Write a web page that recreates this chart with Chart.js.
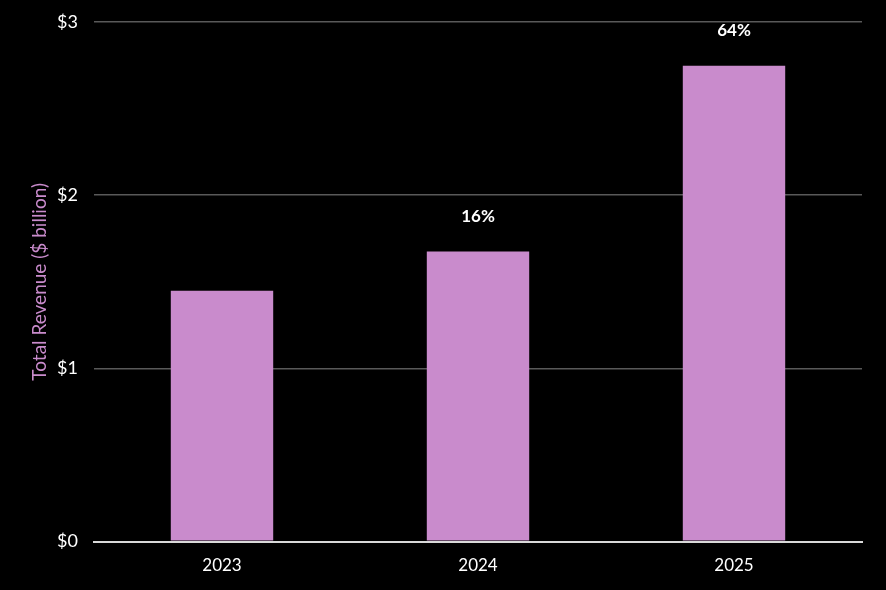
<!DOCTYPE html>
<html>
<head>
<meta charset="utf-8">
<script src="https://cdn.jsdelivr.net/npm/chart.js@4"></script>
<style>
html,body{margin:0;padding:0;background:#000;}
#wrap{width:886px;height:590px;}
</style>
</head>
<body>
<div id="wrap"><canvas id="c" width="886" height="590"></canvas></div>
<script>
const categories = ['2023', '2024', '2025'];
const revenue = [1.448, 1.675, 2.747];
const growthLabels = ['', '16%', '64%'];
const yTicks = [0, 1, 2, 3];

const FONT = 'Lato, "Open Sans", "Liberation Sans", sans-serif';

const labelPlugin = {
  id: 'growthLabels',
  afterDatasetsDraw(chart) {
    const ctx = chart.ctx;
    const meta = chart.getDatasetMeta(0);
    ctx.save();
    ctx.fillStyle = '#ffffff';
    ctx.font = 'bold 17px ' + FONT;
    ctx.textAlign = 'center';
    ctx.textBaseline = 'middle';
    meta.data.forEach((bar, i) => {
      if (growthLabels[i]) ctx.fillText(growthLabels[i], bar.x, bar.y - 35);
    });
    ctx.restore();
  }
};

new Chart(document.getElementById('c'), {
  type: 'bar',
  data: {
    labels: categories,
    datasets: [{
      data: revenue,
      backgroundColor: '#c98bcc',
      borderWidth: 0,
      categoryPercentage: 1,
      barPercentage: 0.4
    }]
  },
  options: {
    responsive: false,
    animation: false,
    devicePixelRatio: 1,
    layout: { padding: { left: 28, right: 24, top: 0, bottom: 0 } },
    plugins: { legend: { display: false }, tooltip: { enabled: false } },
    scales: {
      x: {
        grid: { display: false, drawTicks: false },
        border: { display: true, color: '#d9d9d9', width: 2 },
        ticks: { color: '#ffffff', font: { family: FONT, size: 17 }, padding: 14 }
      },
      y: {
        min: 0, max: 3,
        afterBuildTicks(axis) { axis.ticks = yTicks.map(v => ({ value: v })); },
        afterFit(axis) { axis.width = 66; axis.paddingTop = 22; axis.paddingBottom = 0; },
        grid: {
          color: (c) => c.tick && c.tick.value === 0 ? '#d9d9d9' : '#595959',
          lineWidth: (c) => c.tick && c.tick.value === 0 ? 2 : 1.5,
          drawTicks: false
        },
        border: { display: false },
        ticks: {
          color: '#ffffff', font: { family: FONT, size: 18 }, padding: 16,
          callback: (v) => '$' + v
        },
        title: {
          display: true, text: 'Total Revenue ($ billion)', color: '#c98bcc',
          font: { family: FONT, size: 19 }, padding: { top: 0, bottom: 6 }
        }
      }
    }
  },
  plugins: [labelPlugin]
});
</script>
</body>
</html>
